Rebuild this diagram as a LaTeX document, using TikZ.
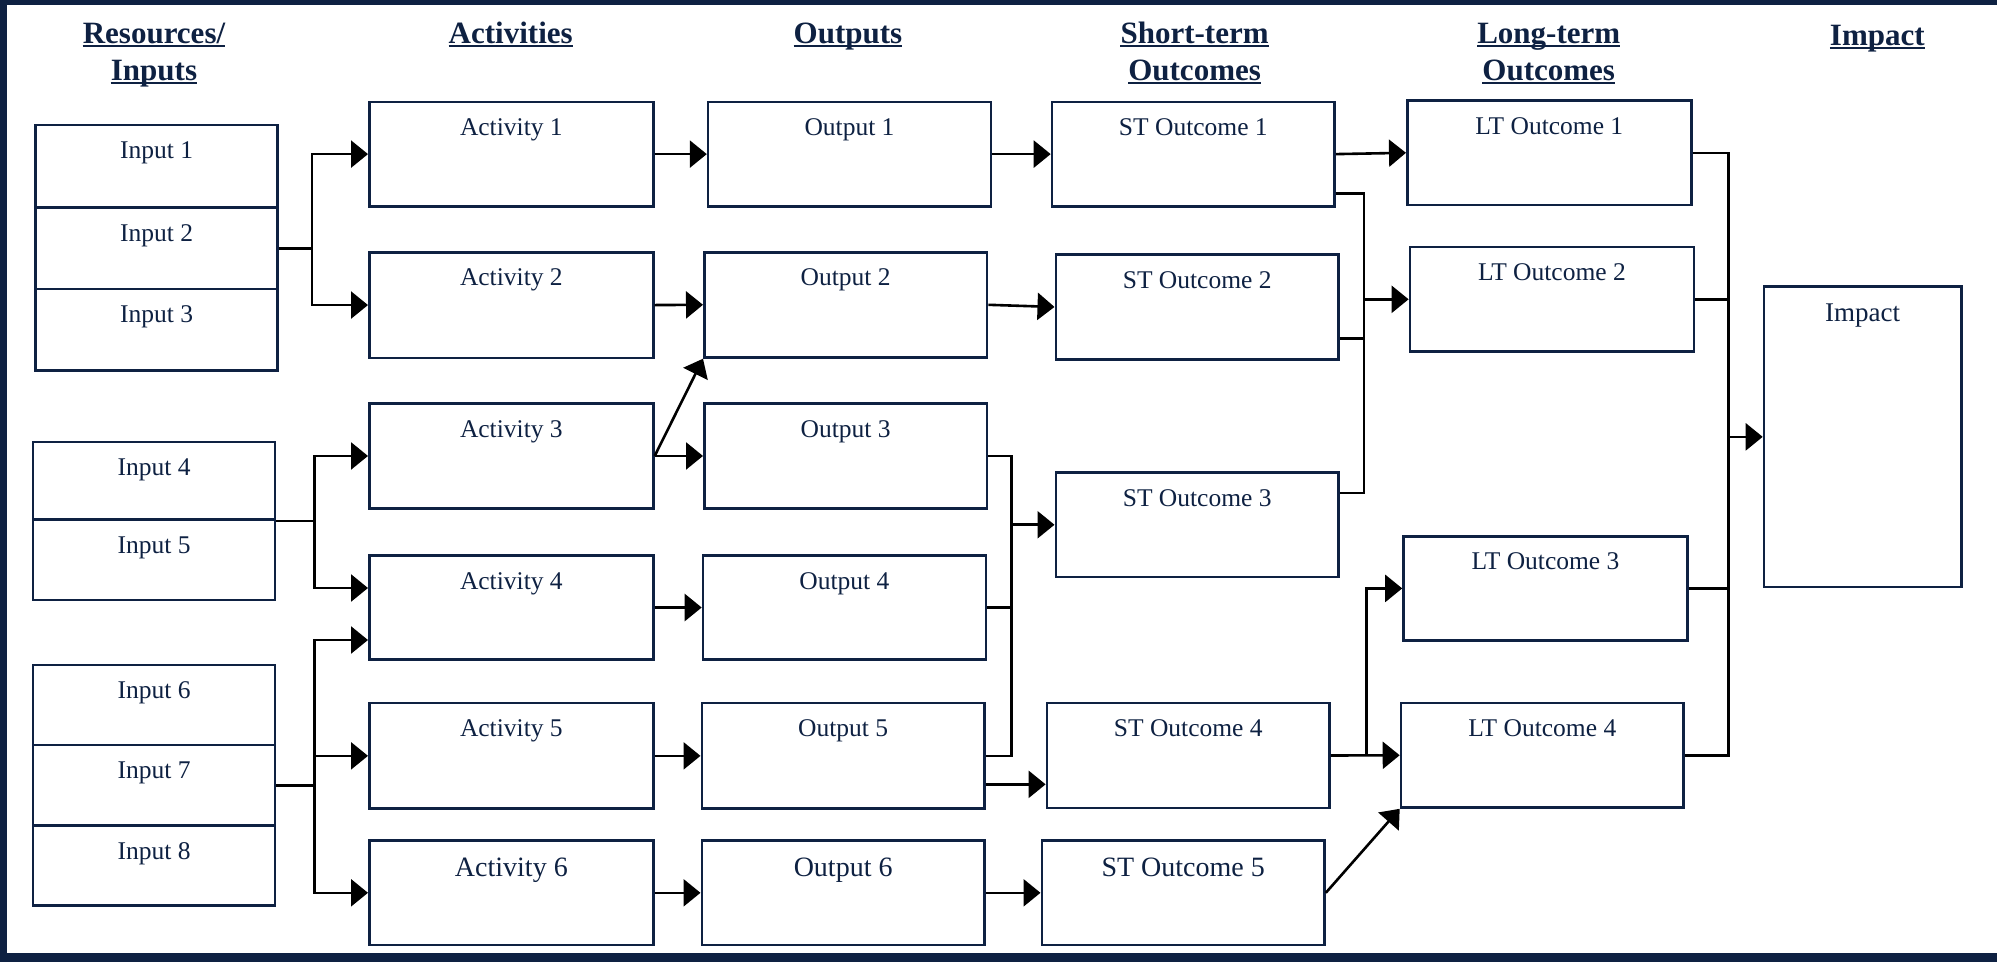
\documentclass[tikz,border=0pt]{standalone}
\usepackage{fontspec}
\setmainfont{Liberation Serif}
\usetikzlibrary{arrows.meta,calc}
\definecolor{navy}{RGB}{14,33,66}

\tikzset{
  boxshape/.style={draw=navy, line width=2.6pt, fill=white, inner sep=0pt},
  boxlabel/.style={anchor=base, inner sep=0pt, text=navy,
                   font=\fontsize{25.5}{30}\selectfont},
  biglabel/.style={font=\fontsize{28}{33}\selectfont, yshift=-2.5pt},
  headtext/.style={anchor=base, inner sep=0pt, text=navy,
                   font=\fontsize{31}{37}\selectfont\bfseries},
  wire/.style={draw=black, line width=2.6pt},
  arr/.style={wire, -{Triangle[length=17pt,width=27pt]}},
}

% box by its corners: {name}{x1}{y1}{x2}{y2}
\newcommand\lmbox[5]{%
  \node[boxshape, minimum width={(#4-#2)*1pt}, minimum height={(#5-#3)*1pt}]
    (#1) at ({(#2+#4)/2},{(#3+#5)/2}) {};}
% caption near the top of a box: [style]{box name}{text}
\newcommand\lmtext[3][]{%
  \node[boxlabel, #1] (#2-t) at ([yshift=-35pt]#2.north) {#3};}

% underlined column heading
\newcommand\colhead[4]{%
  \node[headtext] (#1) at (#2,#3) {#4};
  \draw[navy, line width=2pt] ([yshift=-3pt]#1.base west) -- ([yshift=-3pt]#1.base east);}

\begin{document}
\begin{tikzpicture}[x=1pt, y=-1pt]
\useasboundingbox (0,0) rectangle (1997,962);
\fill[white] (0,0) rectangle (1997,962);
% frame bands
\fill[navy] (0,0) rectangle (1997,5);
\fill[navy] (0,0) rectangle (7,962);
\fill[navy] (0,953) rectangle (1997,962);

% column headings
\colhead{hres}{154}{43}{Resources/}
\colhead{hinp}{154}{80}{Inputs}
\colhead{hact}{510.7}{43}{Activities}
\colhead{hout}{848}{43}{Outputs}
\colhead{hst}{1194.6}{43}{Short-term}
\colhead{hsto}{1194.6}{80}{Outcomes}
\colhead{hlt}{1548.7}{43}{Long-term}
\colhead{hlto}{1548.7}{80}{Outcomes}
\colhead{himp}{1877.3}{45}{Impact}

% inputs
\lmbox{in1}{35.7}{124.8}{277.6}{207.6}
\lmbox{in2}{35.7}{207.6}{277.6}{289.1}
\lmbox{in3}{35.7}{289.1}{277.6}{370.6}
\lmbox{in4}{33.1}{441.9}{275.1}{519.6}
\lmbox{in5}{33.1}{519.6}{275.1}{599.9}
\lmbox{in6}{33.1}{664.8}{275.1}{745.1}
\lmbox{in7}{33.1}{745.1}{275.1}{825.3}
\lmbox{in8}{33.1}{825.3}{275.1}{905.5}
\lmtext{in1}{Input 1}
\lmtext{in2}{Input 2}
\lmtext{in3}{Input 3}
\lmtext{in4}{Input 4}
\lmtext{in5}{Input 5}
\lmtext{in6}{Input 6}
\lmtext{in7}{Input 7}
\lmtext{in8}{Input 8}

% activities
\lmbox{a1}{369.3}{101.9}{653.4}{206.3}
\lmbox{a2}{369.3}{252.2}{653.4}{357.9}
\lmbox{a3}{369.3}{403.7}{653.4}{508.2}
\lmbox{a4}{369.3}{555.3}{653.4}{659.7}
\lmbox{a5}{369.3}{703.0}{653.4}{808.7}
\lmbox{a6}{369.3}{840.6}{653.4}{945.0}
\lmtext{a1}{Activity 1}
\lmtext{a2}{Activity 2}
\lmtext{a3}{Activity 3}
\lmtext{a4}{Activity 4}
\lmtext{a5}{Activity 5}
\lmtext[biglabel]{a6}{Activity 6}

% outputs
\lmbox{o1}{708.1}{101.9}{990.9}{206.3}
\lmbox{o2}{704.3}{252.2}{987.0}{357.4}
\lmbox{o3}{704.3}{403.7}{987.0}{508.2}
\lmbox{o4}{703.0}{555.3}{985.8}{659.7}
\lmbox{o5}{701.8}{703.0}{984.5}{808.7}
\lmbox{o6}{701.8}{840.6}{984.5}{945.0}
\lmtext{o1}{Output 1}
\lmtext{o2}{Output 2}
\lmtext{o3}{Output 3}
\lmtext{o4}{Output 4}
\lmtext{o5}{Output 5}
\lmtext[biglabel]{o6}{Output 6}

% short-term outcomes
\lmbox{st1}{1052.0}{101.9}{1334.7}{206.3}
\lmbox{st2}{1055.8}{254.7}{1338.6}{359.2}
\lmbox{st3}{1055.8}{472.5}{1338.6}{577.0}
\lmbox{st4}{1046.9}{703.0}{1329.6}{808.0}
\lmbox{st5}{1041.8}{840.6}{1324.5}{945.0}
\lmtext{st1}{ST Outcome 1}
\lmtext{st2}{ST Outcome 2}
\lmtext{st3}{ST Outcome 3}
\lmtext{st4}{ST Outcome 4}
\lmtext[biglabel]{st5}{ST Outcome 5}

% long-term outcomes
\lmbox{lt1}{1407.3}{100.6}{1691.3}{205.0}
\lmbox{lt2}{1409.9}{247.1}{1693.9}{351.5}
\lmbox{lt3}{1403.5}{536.2}{1687.5}{640.6}
\lmbox{lt4}{1401.0}{703.0}{1683.7}{807.5}
\lmtext{lt1}{LT Outcome 1}
\lmtext{lt2}{LT Outcome 2}
\lmtext{lt3}{LT Outcome 3}
\lmtext{lt4}{LT Outcome 4}

% impact
\lmbox{imp}{1764.0}{286.6}{1961.3}{587.1}
\lmtext[yshift=-1pt, font=\fontsize{27}{32}\selectfont]{imp}{Impact}

% inputs -> activities
\draw[wire] (in2.east) -- ++(33.2,0) coordinate (j1);
\draw[arr] (j1) |- (a1.west);
\draw[arr] (j1) |- (a2.west);
\draw[wire] (in4.south east) -- ++(38.2,0) coordinate (j2);
\draw[arr] (j2) |- (a3.west);
\draw[arr] (j2) |- ([yshift=19.5pt]a4.west);
\draw[wire] (in7.east) -- ++(38.2,0) coordinate (j3);
\draw[arr] (j3) |- ([yshift=-32.5pt]a4.west);
\draw[arr] (j3) |- (a5.west);
\draw[arr] (j3) |- (a6.west);

% activities -> outputs
\draw[arr] (a1.east) -- (o1.west);
\draw[arr] (a2.east) -- (o2.west);
\draw[arr] (a3.east) -- (o3.west);
\draw[arr] (a3.east) -- (o2.south west);
\draw[arr] (a4.east) -- (o4.west);
\draw[arr] (a5.east) -- (o5.west);
\draw[arr] (a6.east) -- (o6.west);

% outputs -> short-term outcomes
\draw[arr] (o1.east) -- (st1.west);
\draw[arr] (o2.east) -- (st2.west);
\coordinate (m1) at ($(o3.east)+(23,0)$);
\draw[wire] (o3.east) -- (m1) -- (m1 |- o5.east) -- (o5.east);
\draw[wire] (o4.east) -- (m1 |- o4.east);
\draw[arr] (m1 |- st3.west) -- (st3.west);
\coordinate (o5b) at ([yshift=-28.5pt]o5.east);
\draw[arr] (o5b) -- (o5b -| st4.west);
\draw[arr] (o6.east) -- (st5.west);

% short-term -> long-term outcomes
\draw[arr] (st1.east) -- (lt1.west);
\coordinate (s1b) at ([yshift=-39.6pt]st1.east);
\coordinate (s2b) at ([yshift=-31.8pt]st2.east);
\coordinate (s3b) at ([yshift=31.8pt]st3.east);
\coordinate (m2) at ($(s1b)+(28.1,0)$);
\draw[wire] (s1b) -- (m2) -- (m2 |- s3b) -- (s3b);
\draw[wire] (s2b) -- (m2 |- s2b);
\draw[arr] (m2 |- lt2.west) -- (lt2.west);
\draw[arr] (st4.east) -- (lt4.west);
\coordinate (m3) at ($(st4.east)+(35.4,0)$);
\draw[arr] (m3) |- (lt3.west);
\draw[arr] (st5.east) -- (lt4.south west);

% long-term outcomes -> impact
\coordinate (m4) at ($(lt1.east)+(35.7,0)$);
\draw[wire] (lt1.east) -- (m4) -- (m4 |- lt4.east) -- (lt4.east);
\draw[wire] (lt2.east) -- (m4 |- lt2.east);
\draw[wire] (lt3.east) -- (m4 |- lt3.east);
\draw[arr] (m4 |- imp.west) -- (imp.west);
\end{tikzpicture}
\end{document}
